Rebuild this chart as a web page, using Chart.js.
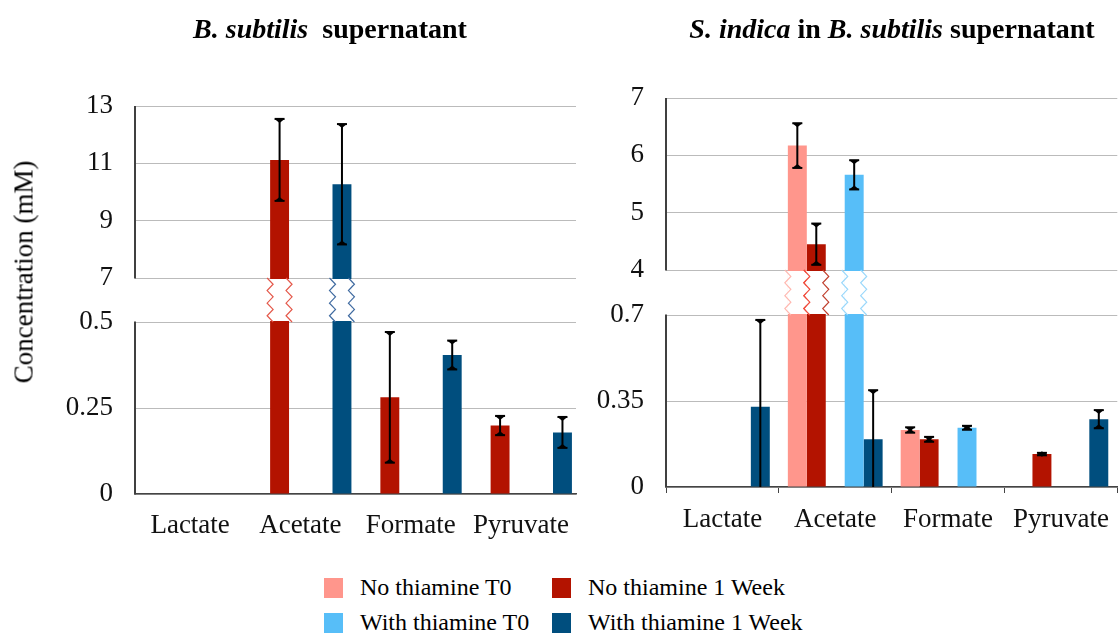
<!DOCTYPE html>
<html>
<head>
<meta charset="utf-8">
<script src="https://cdn.jsdelivr.net/npm/chart.js@4.4.1/dist/chart.umd.min.js"></script>
<style>
  html, body { margin:0; padding:0; background:#fff; }
  body { width:1120px; height:634px; overflow:hidden; position:relative; font-family:"Liberation Serif", "Times New Roman", serif; color:#000; }
  #c1 { position:absolute; left:0; top:0; }
  #c2 { position:absolute; left:580px; top:0; }
  .title { position:absolute; top:15px; font-size:28px; line-height:28px; font-weight:bold; white-space:pre; transform:translateX(-50%); }
  #ytitle { position:absolute; left:24px; top:272px; font-size:27px; line-height:27px; white-space:nowrap; transform:translate(-50%,-50%) rotate(-90deg); }
  #legend { position:absolute; left:324px; top:570px; display:grid; grid-template-columns:228px auto; grid-auto-rows:35px; font-size:24px; }
  .li { display:flex; align-items:center; white-space:nowrap; }
  .sw { width:19px; height:20px; margin-right:17px; flex:none; }
</style>
</head>
<body>
<canvas id="c1" width="580" height="560"></canvas>
<canvas id="c2" width="540" height="560"></canvas>
<div class="title" style="left:330px"><i>B. subtilis</i>  supernatant</div>
<div class="title" style="left:892px"><i>S. indica</i> in <i>B. subtilis</i> supernatant</div>
<div id="ytitle">Concentration (mM)</div>
<div id="legend"></div>
<script>
// ---------- data ----------
const categories = ['Lactate', 'Acetate', 'Formate', 'Pyruvate'];
const seriesNames = ['No thiamine T0', 'No thiamine 1 Week', 'With thiamine T0', 'With thiamine 1 Week'];
const seriesColors = ['#FF968C', '#B31300', '#57BEF8', '#004E7E'];

// Left panel: B. subtilis supernatant
const bsNoT0 = [null, null, null, null];
const bsNo1W = [null, 11.12, 0.281, 0.199];
const bsWithT0 = [null, null, null, null];
const bsWith1W = [null, 10.27, 0.404, 0.179];
const bsNoT0Err = [null, null, null, null];
const bsNo1WErr = [null, 1.43, 0.19, 0.028];
const bsWithT0Err = [null, null, null, null];
const bsWith1WErr = [null, 2.1, 0.042, 0.045];
const bsTicks = [0, 0.25, 0.5, 7, 9, 11, 13];
const bsBreak = [0.5, 7];

// Right panel: S. indica in B. subtilis supernatant
const siNoT0 = [null, 6.17, 0.232, null];
const siNo1W = [null, 4.45, 0.194, 0.134];
const siWithT0 = [null, 5.66, 0.241, null];
const siWith1W = [0.327, 0.194, null, 0.276];
const siNoT0Err = [null, 0.39, 0.011, null];
const siNo1WErr = [null, 0.36, 0.01, 0.005];
const siWithT0Err = [null, 0.255, 0.008, null];
const siWith1WErr = [0.353, 0.2, null, 0.037];
const siTicks = [0, 0.35, 0.7, 4, 5, 6, 7];
const siBreak = [0.7, 4];

// ---------- broken linear scale ----------
class BrokenScale extends Chart.LinearScale {
  static id = 'broken';
  static defaults = {};
  buildTicks() {
    const o = this.options;
    const tv = Array.from(o.tickValues);
    this.min = 0;
    this.max = tv[tv.length - 1];
    return tv.map(v => ({ value: v }));
  }
  _cfg() {
    const o = this.options;
    const tv = Array.from(o.tickValues);
    return { lo: o.breakLow, hi: o.breakHigh, top: tv[tv.length - 1], g: o.gapFraction };
  }
  _toDecimal(v) {
    const { lo, hi, top, g } = this._cfg();
    const seg = (1 - g) / 2;
    if (v <= lo) return v / lo * seg;
    if (v >= hi) return seg + g + (v - hi) / (top - hi) * seg;
    return seg + (v - lo) / (hi - lo) * g;
  }
  getPixelForValue(v) {
    if (v === null || v === undefined || isNaN(v)) return NaN;
    return this.getPixelForDecimal(this._toDecimal(v));
  }
  getValueForPixel(p) {
    const d = this.getDecimalForPixel(p);
    const { lo, hi, top, g } = this._cfg();
    const seg = (1 - g) / 2;
    if (d <= seg) return d / seg * lo;
    if (d >= seg + g) return hi + (d - seg - g) / seg * (top - hi);
    return lo + (d - seg) / g * (hi - lo);
  }
}
Chart.register(BrokenScale);

Chart.defaults.font.family = "'Liberation Serif', 'Times New Roman', serif";
Chart.defaults.color = '#000';

// ---------- plugins ----------
const breakPlugin = {
  id: 'breakMarks',
  afterDatasetsDraw(chart) {
    const y = chart.scales.y, ctx = chart.ctx;
    const lo = y.options.breakLow, hi = y.options.breakHigh;
    const yTop = y.getPixelForValue(hi), yBot = y.getPixelForValue(lo);
    chart.data.datasets.forEach((ds, di) => {
      if (!ds.zig) return;
      const meta = chart.getDatasetMeta(di);
      meta.data.forEach((bar, i) => {
        const v = ds.data[i];
        if (v === null || v === undefined || v <= lo) return;
        const p = bar.getProps(['x', 'width'], true);
        const l = p.x - p.width / 2, r = p.x + p.width / 2;
        ctx.save();
        ctx.fillStyle = '#fff';
        ctx.fillRect(l - 0.5, yTop + 1, p.width + 1, yBot - yTop - 2);
        ctx.lineWidth = 1.2;
        [[l, ds.zig[0]], [r, ds.zig[1]]].forEach(([edge, col]) => {
          ctx.strokeStyle = col;
          ctx.beginPath();
          const n = 7, A = 3;
          for (let k = 0; k <= n; k++) {
            const yy = yTop + (yBot - yTop) * k / n;
            const xx = edge + (k % 2 === 0 ? -A : A);
            if (k === 0) ctx.moveTo(xx, yy); else ctx.lineTo(xx, yy);
          }
          ctx.stroke();
        });
        ctx.restore();
      });
    });
  }
};

const errorPlugin = {
  id: 'errorBars',
  afterDatasetsDraw(chart) {
    const y = chart.scales.y, ctx = chart.ctx;
    const bottom = chart.chartArea.bottom;
    chart.data.datasets.forEach((ds, di) => {
      if (!ds.errors) return;
      const meta = chart.getDatasetMeta(di);
      meta.data.forEach((bar, i) => {
        const v = ds.data[i], e = ds.errors[i];
        if (v === null || v === undefined || e === null || e === undefined) return;
        const x = bar.getProps(['x'], true).x;
        const yt = y.getPixelForValue(v + e);
        const lowV = v - e;
        const clipped = lowV < 0;
        const yb = clipped ? bottom : y.getPixelForValue(lowV);
        ctx.save();
        ctx.strokeStyle = '#000';
        ctx.fillStyle = '#000';
        ctx.lineWidth = 2;
        ctx.beginPath();
        ctx.moveTo(x, yt);
        ctx.lineTo(x, yb);
        ctx.stroke();
        const cap = (yc, dir) => {
          ctx.beginPath();
          ctx.moveTo(x - 5, yc);
          ctx.lineTo(x + 5, yc);
          ctx.stroke();
          ctx.beginPath();
          ctx.moveTo(x - 5, yc);
          ctx.lineTo(x + 5, yc);
          ctx.lineTo(x, yc + dir * 4);
          ctx.closePath();
          ctx.fill();
        };
        cap(yt, 1);
        if (!clipped) cap(yb, -1);
        ctx.restore();
      });
    });
  }
};

// y axis line drawn in two pieces, interrupted across the break
const brokenAxisPlugin = {
  id: 'brokenAxis',
  afterDraw(chart) {
    const y = chart.scales.y, ctx = chart.ctx, ca = chart.chartArea;
    const pHi = y.getPixelForValue(y.options.breakHigh);
    const pLo = y.getPixelForValue(y.options.breakLow);
    ctx.save();
    ctx.strokeStyle = '#404040';
    ctx.lineWidth = 2;
    ctx.beginPath();
    ctx.moveTo(ca.left, ca.top);
    ctx.lineTo(ca.left, pHi + 0.5);
    ctx.moveTo(ca.left, pLo - 0.5);
    ctx.lineTo(ca.left, ca.bottom + 0.5);
    ctx.stroke();
    ctx.restore();
  }
};

// ---------- chart builders ----------
function makeDatasets(vals, errs, zigs) {
  const ds = [];
  for (let s = 0; s < 4; s++) {
    ds.push({ label: seriesNames[s], data: vals[s], errors: errs[s], zig: zigs[s],
      backgroundColor: seriesColors[s], borderWidth: 0 });
    if (s === 1) ds.push({ label: '', data: [null, null, null, null], backgroundColor: 'rgba(0,0,0,0)' });
  }
  return ds;
}

const tickFont = { family: "'Liberation Serif', 'Times New Roman', serif", size: 27 };

function makeOptions(cfg) {
  return {
    responsive: false,
    animation: false,
    events: [],
    layout: { padding: cfg.padding },
    plugins: { legend: { display: false }, tooltip: { enabled: false }, title: { display: false } },
    datasets: { bar: { categoryPercentage: cfg.cp, barPercentage: cfg.bp } },
    scales: {
      x: {
        grid: cfg.xTicks
          ? { display: true, drawOnChartArea: false, drawTicks: true, tickLength: 6, color: '#444', offset: true }
          : { display: false },
        border: { display: true, color: '#444', width: 1.5 },
        ticks: { font: tickFont, color: '#111', padding: cfg.xPad, maxRotation: 0, autoSkip: false },
        afterFit(s) { s.height = 50; }
      },
      y: {
        type: 'broken',
        tickValues: cfg.ticks,
        breakLow: cfg.brk[0],
        breakHigh: cfg.brk[1],
        gapFraction: cfg.gap,
        grid: { color: '#bbb', drawTicks: false, lineWidth: 1 },
        border: { display: false },
        ticks: { font: tickFont, color: '#111', padding: 22, autoSkip: false, callback: v => String(v) },
        afterFit(s) { s.width = cfg.yWidth; }
      }
    }
  };
}

new Chart(document.getElementById('c1'), {
  type: 'bar',
  data: {
    labels: categories,
    datasets: makeDatasets([bsNoT0, bsNo1W, bsWithT0, bsWith1W],
      [bsNoT0Err, bsNo1WErr, bsWithT0Err, bsWith1WErr],
      [['#ffb0a8', '#ffb0a8'], ['#e4584a', '#e4584a'], ['#8fd4fb', '#8fd4fb'], ['#3f6aa0', '#3f6aa0']])
  },
  options: makeOptions({ padding: { top: 106, left: 0, right: 4, bottom: 16 }, cp: 0.943, bp: 0.91,
    xTicks: false, xPad: 8, ticks: bsTicks, brk: bsBreak, gap: 44 / 388, yWidth: 135 }),
  plugins: [breakPlugin, errorPlugin, brokenAxisPlugin]
});

new Chart(document.getElementById('c2'), {
  type: 'bar',
  data: {
    labels: categories,
    datasets: makeDatasets([siNoT0, siNo1W, siWithT0, siWith1W],
      [siNoT0Err, siNo1WErr, siWithT0Err, siWith1WErr],
      [['#ffb8b0', '#f06a5e'], ['#f04a3a', '#c0402e'], ['#9ad8fb', '#9ad8fb'], ['#3f6aa0', '#3f6aa0']])
  },
  options: makeOptions({ padding: { top: 98, left: 0, right: 1, bottom: 23 }, cp: 0.84, bp: 1.0,
    xTicks: true, xPad: 11, ticks: siTicks, brk: siBreak, gap: 45 / 389, yWidth: 86 }),
  plugins: [breakPlugin, errorPlugin, brokenAxisPlugin]
});

// ---------- legend ----------
const legend = document.getElementById('legend');
seriesNames.forEach((name, i) => {
  const item = document.createElement('div');
  item.className = 'li';
  const sw = document.createElement('span');
  sw.className = 'sw';
  sw.style.background = seriesColors[i];
  const tx = document.createElement('span');
  tx.textContent = name;
  item.appendChild(sw);
  item.appendChild(tx);
  legend.appendChild(item);
});
</script>
</body>
</html>
